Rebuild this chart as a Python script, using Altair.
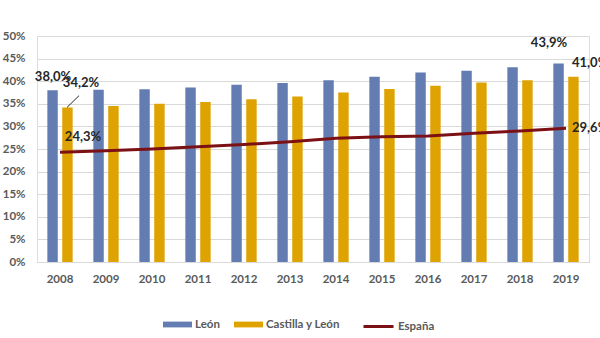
import altair as alt
import pandas as pd

years = [str(y) for y in range(2008, 2020)]
leon = [38.0, 38.1, 38.2, 38.6, 39.2, 39.6, 40.2, 41.0, 41.9, 42.3, 43.1, 43.9]
cyl = [34.2, 34.5, 35.0, 35.4, 36.0, 36.6, 37.5, 38.3, 39.0, 39.7, 40.2, 41.0]
espana = [24.3, 24.6, 25.0, 25.5, 26.0, 26.6, 27.4, 27.7, 27.9, 28.5, 29.0, 29.6]
series_bars = ["León", "Castilla y León"]
series_line = ["España"]
y_ticks = [0, 5, 10, 15, 20, 25, 30, 35, 40, 45, 50]

bars_df = pd.DataFrame(
    [{"year": y, "serie": "León", "value": v} for y, v in zip(years, leon)]
    + [{"year": y, "serie": "Castilla y León", "value": v} for y, v in zip(years, cyl)]
)
line_df = pd.DataFrame({"year": years, "value": espana, "serie": "España"})

FONT = "Lato"
GREY = "#595959"
TXT = "#262626"

x_scale = alt.Scale(paddingInner=0.45, paddingOuter=0.225)
x_axis = alt.Axis(labelAngle=0, labelFont=FONT, labelFontSize=11.5, labelFontWeight="bold",
                  labelColor=GREY, ticks=False, domainColor="#d9d9d9", labelPadding=11)
y_scale = alt.Scale(domain=[0, 50], nice=False)
y_axis = alt.Axis(values=y_ticks, tickCount=11, labelExpr="datum.value + '%'", labelFont=FONT,
                  labelFontSize=11.5, labelFontWeight="bold", labelColor=GREY,
                  labelOverlap=False, ticks=False, domain=False, gridColor="#d9d9d9",
                  labelPadding=12)


def X():
    return alt.X("year:N", sort=years, title=None, scale=x_scale, axis=x_axis)


def Y(field="value"):
    return alt.Y(f"{field}:Q", scale=y_scale, title=None, axis=y_axis)


bars = alt.Chart(bars_df).mark_bar().encode(
    x=X(),
    xOffset=alt.XOffset("serie:N", sort=series_bars, scale=alt.Scale(paddingInner=0.3)),
    y=Y(),
    color=alt.Color("serie:N", sort=series_bars,
                    scale=alt.Scale(domain=series_bars, range=["#637db2", "#dea300"]),
                    legend=alt.Legend(title=None, orient="none", direction="horizontal",
                                      legendX=126, legendY=274,
                                      symbolType="M-1,-0.2H1V0.2H-1Z", symbolSize=841,
                                      symbolStrokeWidth=0, labelFont=FONT, labelFontSize=11.5,
                                      labelFontWeight="bold", labelColor=GREY,
                                      columnPadding=14, labelOffset=3, symbolOpacity=1)),
)

line = alt.Chart(line_df).mark_line(strokeWidth=3).encode(
    x=X(),
    y=Y(),
    stroke=alt.Stroke("serie:N", scale=alt.Scale(domain=series_line, range=["#7b1015"]),
                      legend=alt.Legend(title=None, orient="none", direction="horizontal",
                                        legendX=325, legendY=274, symbolType="stroke",
                                        symbolSize=900, symbolStrokeWidth=3,
                                        labelFont=FONT, labelFontSize=11.5, labelFontWeight="bold",
                                        labelColor=GREY, labelOffset=3)),
)


def label(year, value, text, dx, dy, align="center", baseline="middle"):
    df = pd.DataFrame({"year": [year], "value": [value], "text": [text]})
    return alt.Chart(df).mark_text(font=FONT, fontSize=13, fontWeight="bold", color=TXT,
                                   dx=dx, dy=dy, align=align, baseline=baseline).encode(
        x=X(), y=Y(), text="text:N")


labels = [
    label(years[0], leon[0], "38,0%", -7, -13),
    label(years[0], cyl[0], "34,2%", 21, -24),
    label(years[0], espana[0], "24,3%", 23, -15),
    label(years[-1], leon[-1], "43,9%", -17, -21),
    label(years[-1], cyl[-1], "41,0%", 6, -14, align="left"),
    label(years[-1], espana[-1], "29,6%", 6, 0, align="left"),
]

leader_df = pd.DataFrame({"year": [years[0]], "value": [cyl[0]], "y2": [36.8]})
leader = alt.Chart(leader_df).mark_rule(color=TXT, strokeWidth=1, xOffset=7, x2Offset=19).encode(
    x=X(), x2="year:N", y=Y(), y2="y2:Q")

chart = alt.layer(bars, line, leader, *labels).properties(
    width=552, height=226,
    autosize=alt.AutoSizeParams(type="none"),
    padding={"left": 37, "top": 36, "right": 11, "bottom": 76},
).configure_view(stroke=None).configure(background="white")

chart.save("out.html", embed_options={"renderer": "svg", "actions": False})
